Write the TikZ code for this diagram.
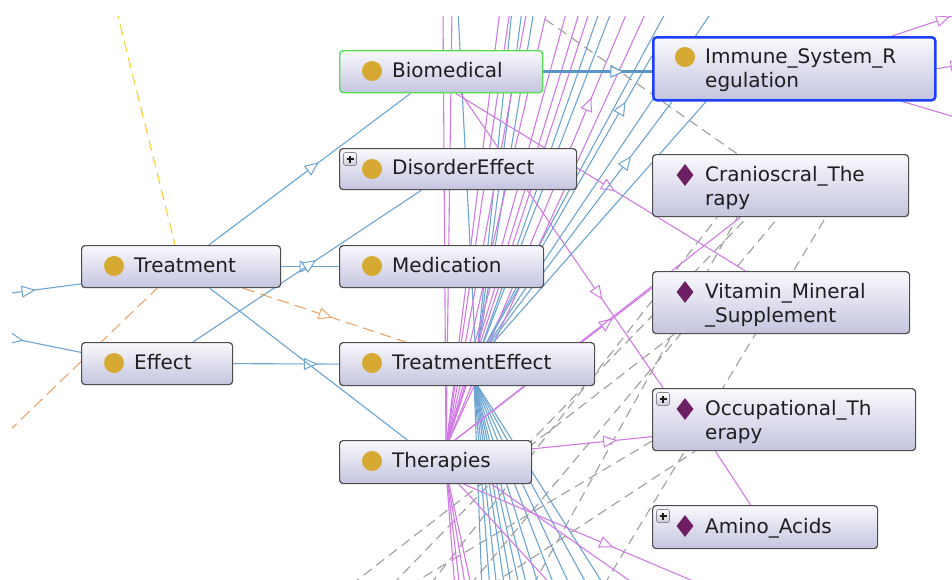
\documentclass[tikz,border=0pt]{standalone}
\usepackage{fontspec}
\setmainfont{DejaVu Sans}
\usetikzlibrary{arrows.meta,calc,decorations.markings,shapes.geometric}

\definecolor{edgeblue}{HTML}{6CA4D2}
\definecolor{edgebluedark}{HTML}{5B96C6}
\definecolor{edgemag}{HTML}{CF7BE3}
\definecolor{edgegray}{HTML}{9E9E9E}
\definecolor{edgeorange}{HTML}{E9A56B}
\definecolor{edgeyellow}{HTML}{F6D12E}
\definecolor{nodetop}{HTML}{F9F9FD}
\definecolor{nodebot}{HTML}{C4C4DF}
\definecolor{nodeline}{HTML}{4D4D4D}
\definecolor{selgreen}{HTML}{52E052}
\definecolor{selblue}{HTML}{1F3FFF}
\definecolor{dotgold}{HTML}{D6A932}
\definecolor{indivpurple}{HTML}{6E1E63}
\definecolor{labeltext}{HTML}{1E1E1E}
\definecolor{plusfill}{HTML}{C9C9D2}
\definecolor{plusedge}{HTML}{8A8A96}

\pgfdeclarelayer{edges}
\pgfsetlayers{edges,main}

\begin{document}
\begin{tikzpicture}[x=1pt,y=-1pt,
  ontobox/.style={rectangle, rounded corners=3.5pt, draw=nodeline, line width=1.2pt,
    top color=nodetop, bottom color=nodebot, inner sep=0pt, anchor=north west},
  classdot/.style={circle, fill=dotgold, minimum size=20pt, inner sep=0pt},
  indiv/.style={diamond, fill=indivpurple, minimum width=17pt, minimum height=22pt, inner sep=0pt},
  plusbox/.style={rectangle, minimum size=13pt, inner sep=0pt, rounded corners=1.5pt,
    draw=plusedge, line width=0.6pt, top color=white, bottom color=plusfill,
    path picture={\draw[line width=1.2pt, labeltext]
      ([xshift=-3.5pt]path picture bounding box.center) -- ([xshift=3.5pt]path picture bounding box.center)
      ([yshift=-3.5pt]path picture bounding box.center) -- ([yshift=3.5pt]path picture bounding box.center);}},
  lbl/.style={font=\fontsize{20}{24}\selectfont, text=labeltext, inner sep=0pt, anchor=base west},
  edge/.style={line width=1.1pt},
  isa/.style={edge, color=edgeblue},
  rel/.style={edge, color=edgemag},
  inst/.style={edge, color=edgegray, dash pattern=on 10pt off 6pt},
  midarrow/.style={postaction={decorate, decoration={markings,
    mark=at position #1 with {\arrow{Triangle[fill=white, line width=1pt, length=14pt, width=12pt]}}}}}
]
\useasboundingbox (0,0) rectangle (952,579);

% ---------- class and individual boxes ----------
\node[ontobox, minimum width=203pt, minimum height=42pt, draw=selgreen, line width=1.4pt] (bio) at (339,50) {};
\node[ontobox, minimum width=282pt, minimum height=63pt, draw=selblue, line width=2.5pt] (imm) at (652,36) {};
\node[ontobox, minimum width=237pt, minimum height=41pt] (dis) at (339,148) {};
\node[ontobox, minimum width=256pt, minimum height=62pt] (cra) at (652,154) {};
\node[ontobox, minimum width=199pt, minimum height=42pt] (tre) at (81,245) {};
\node[ontobox, minimum width=204pt, minimum height=42pt] (med) at (339,245) {};
\node[ontobox, minimum width=257pt, minimum height=62pt] (vit) at (652,271) {};
\node[ontobox, minimum width=151pt, minimum height=42pt] (eff) at (81,342) {};
\node[ontobox, minimum width=255pt, minimum height=43pt] (tef) at (339,342) {};
\node[ontobox, minimum width=192pt, minimum height=43pt] (the) at (339,440) {};
\node[ontobox, minimum width=263pt, minimum height=62pt] (occ) at (652,388) {};
\node[ontobox, minimum width=225pt, minimum height=43pt] (ami) at (652,505) {};

% class markers
\foreach \n in {bio,imm,dis,tre,med,eff,tef,the}
  \node[classdot] (\n-i) at ($(\n.north west)+(33,21)$) {};
% individual markers
\foreach \n in {cra,vit,occ,ami}
  \node[indiv] (\n-i) at ($(\n.north west)+(33,21)$) {};
% expand buttons
\foreach \n in {dis,occ,ami}
  \node[plusbox] (\n-p) at ($(\n.north west)+(11,11)$) {};

% labels
\node[lbl] (bio-t) at ($(bio.north west)+(53,27)$) {Biomedical};
\node[lbl] (imm-t) at ($(imm.north west)+(53,27)$) {Immune\_System\_R};
\node[lbl] (imm-u) at ($(imm.north west)+(53,51)$) {egulation};
\node[lbl] (dis-t) at ($(dis.north west)+(53,26.5)$) {DisorderEffect};
\node[lbl] (cra-t) at ($(cra.north west)+(53,27.5)$) {Cranioscral\_The};
\node[lbl] (cra-u) at ($(cra.north west)+(53,51)$) {rapy};
\node[lbl] (tre-t) at ($(tre.north west)+(53,27)$) {Treatment};
\node[lbl] (med-t) at ($(med.north west)+(53,27)$) {Medication};
\node[lbl] (vit-t) at ($(vit.north west)+(53,27.5)$) {Vitamin\_Mineral};
\node[lbl] (vit-u) at ($(vit.north west)+(53,51)$) {\_Supplement};
\node[lbl] (eff-t) at ($(eff.north west)+(53,27)$) {Effect};
\node[lbl] (tef-t) at ($(tef.north west)+(53,27.5)$) {TreatmentEffect};
\node[lbl] (the-t) at ($(the.north west)+(53,27.5)$) {Therapies};
\node[lbl] (occ-t) at ($(occ.north west)+(53,27.5)$) {Occupational\_Th};
\node[lbl] (occ-u) at ($(occ.north west)+(53,51)$) {erapy};
\node[lbl] (ami-t) at ($(ami.north west)+(53,28)$) {Amino\_Acids};

% ---------- connectors (behind the boxes) ----------
\begin{pgfonlayer}{edges}
\begin{scope}
\clip (12,16) rectangle (952,579);

% hubs where bundles of edges meet behind the boxes
\coordinate (hubB) at (476,362);
\coordinate (hubBl) at (474,380);
\coordinate (hubM) at (446,447);
\coordinate (hubMl) at (446,470);

% instance-of links (grey, dashed)
\coordinate (g1) at (532,10);
\draw[inst] (g1) -- ($(cra.north west)!0.332!(cra.north east)$);
\coordinate (g2) at (351,585);
\draw[inst] (g2) -- ($(vit.south west)!0.086!(vit.south east)$);
\coordinate (g3) at (410,585);
\draw[inst] (g3) -- ($(occ.north west)!0.84!(occ.south west)$);
\coordinate (g4) at (491,585);
\draw[inst] (g4) -- ($(occ.south west)!0.163!(occ.south east)$);
\coordinate (g5) at (430,585);
\draw[inst] (g5) -- ($(cra.south west)!0.254!(cra.south east)$);
\coordinate (g6) at (392,585);
\draw[inst] (g6) -- ($(cra.south west)!0.371!(cra.south east)$);
\coordinate (g7) at (533,585);
\draw[inst] (g7) -- ($(cra.south west)!0.332!(cra.south east)$);
\coordinate (g8) at (470,585);
\draw[inst] (g8) -- ($(cra.south west)!0.492!(cra.south east)$);
\coordinate (g9) at (604,585);
\draw[inst] (g9) -- ($(cra.south west)!0.676!(cra.south east)$);

% upper bundle of subclass links
\foreach \x [count=\i] in {458,512,522,534,600,612,667,713} {
  \coordinate (bt\i) at (\x,10);
  \draw[isa] (hubB) -- (bt\i);
}
% lower bundle of subclass links
\foreach \x [count=\i] in {482,490,497,505,512,520,528,540,556,572,590,607} {
  \coordinate (bb\i) at (\x,590);
  \draw[isa] (hubBl) -- (bb\i);
}
% property bundles
\foreach \x [count=\i] in {443,452,500,510,527,547,567,580,590,647} {
  \coordinate (mt\i) at (\x,10);
  \draw[rel] (hubM) -- (mt\i);
}
\foreach \x [count=\i] in {455,460,466,472,556} {
  \coordinate (mb\i) at (\x,590);
  \draw[rel] (hubMl) -- (mb\i);
}
\coordinate (mtop) at (628,10);
\draw[rel, midarrow=0.8] (hubM) -- (mtop);

% property links between visible boxes
\draw[rel, midarrow=0.70] ($(bio.south west)!0.596!(bio.south east)$) -- ($(occ.north west)!0.042!(occ.north east)$);
\draw[rel, midarrow=0.55] ($(bio.south west)!0.571!(bio.south east)$) -- ($(vit.north west)!0.362!(vit.north east)$);
\draw[rel, midarrow=0.81] (hubM) -- ($(vit.north west)!0.27!(vit.south west)$);
\draw[rel, midarrow=0.71] ($(the.north east)!0.2!(the.south east)$) -- ($(occ.north west)!0.77!(occ.south west)$);
\coordinate (m5) at (705,586);
\draw[rel, midarrow=0.62] ($(the.south west)!0.646!(the.south east)$) -- (m5);
\coordinate (m6) at (640,588);
\draw[rel] ($(the.south west)!0.79!(the.south east)$) -- (m6);
\draw[rel] ($(occ.south west)!0.24!(occ.south east)$) -- ($(ami.north west)!0.436!(ami.north east)$);
\draw[rel] (hubM) -- ($(cra.south west)!0.344!(cra.south east)$);
\coordinate (r1) at (958,14);
\draw[rel, midarrow=0.88] ($(imm.north west)!0.844!(imm.north east)$) -- (r1);
\coordinate (r2) at (966,64);
\draw[rel, midarrow=0.95] (imm.east) -- (r2);
\coordinate (r3) at (958,118);
\draw[rel] ($(imm.south west)!0.88!(imm.south east)$) -- (r3);

% subclass links between visible boxes
\draw[isa, midarrow=0.85] (hubB) -- ($(imm.north west)!0.3!(imm.south west)$);
\draw[isa, midarrow=0.79] (hubB) -- ($(imm.south west)!0.071!(imm.south east)$);
\draw[isa] (hubB) -- ($(imm.south west)!0.19!(imm.south east)$);
\coordinate (bl1) at (4,294);
\draw[isa, midarrow=0.41] (bl1) -- ($(tre.south west)!0.1!(tre.north west)$);
\coordinate (bl2) at (0,336);
\draw[isa, midarrow=0.29] (bl2) -- ($(eff.north west)!0.24!(eff.south west)$);
\draw[isa, midarrow=0.56] (tre.east) -- (med.west);
\draw[isa, midarrow=0.8] (eff.east) -- (tef.west);
\draw[isa] ($(tre.south west)!0.643!(tre.south east)$) -- ($(the.north west)!0.354!(the.north east)$);
\draw[isa, midarrow=0.54] ($(eff.north west)!0.735!(eff.north east)$) -- ($(dis.south west)!0.346!(dis.south east)$);
\draw[isa, midarrow=0.545] ($(tre.north west)!0.638!(tre.north east)$) -- ($(bio.south west)!0.35!(bio.south east)$);
\draw[isa, line width=3pt, color=edgebluedark, midarrow=0.745] (bio.east) -- (bio.east -| imm.west);

% other relations
\coordinate (yl) at (116,8);
\draw[edge, color=edgeyellow, dash pattern=on 11pt off 6pt] (yl) -- ($(tre.north west)!0.47!(tre.north east)$);
\coordinate (ol) at (8,432);
\draw[edge, color=edgeorange, dash pattern=on 12pt off 6pt] (ol) -- ($(tre.south west)!0.38!(tre.south east)$);
\draw[edge, color=edgeorange, dash pattern=on 12pt off 6pt, midarrow=0.55] ($(tre.south west)!0.81!(tre.south east)$) -- ($(tef.north west)!0.26!(tef.north east)$);

\end{scope}
\end{pgfonlayer}
\end{tikzpicture}
\end{document}
